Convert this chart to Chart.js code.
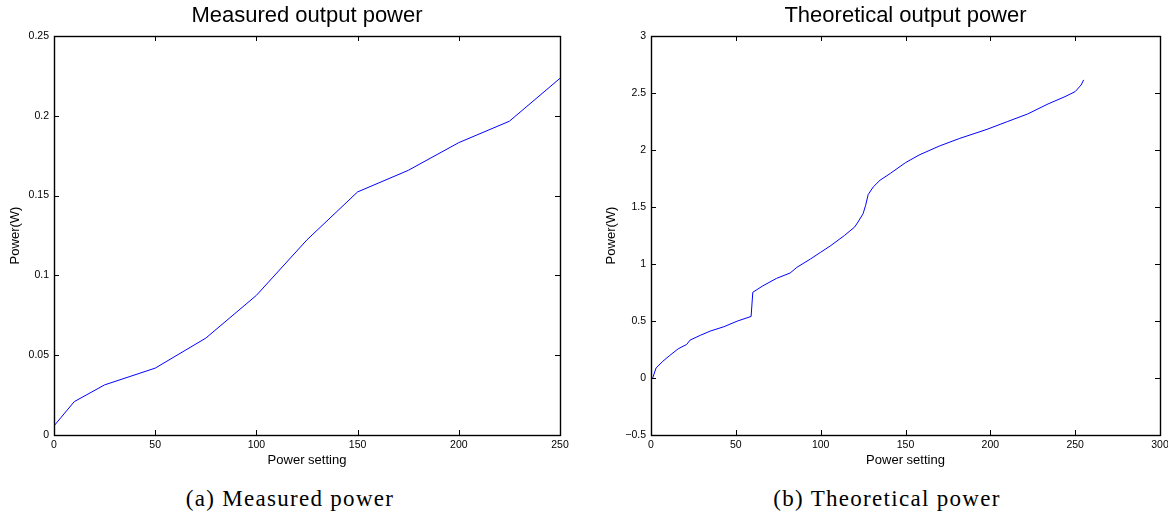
<!DOCTYPE html>
<html>
<head>
<meta charset="utf-8">
<script src="https://cdn.jsdelivr.net/npm/chart.js@4.4.0/dist/chart.umd.min.js"></script>
<style>
  body { margin: 0; background: #fff; width: 1168px; height: 514px; overflow: hidden; position: relative; }
  .box { position: absolute; top: 0; width: 584px; height: 470px; }
  .cap { position: absolute; top: 486px; font-family: "Liberation Serif", serif; font-size: 23px; letter-spacing: 1.3px; line-height: 26px; color: #000; white-space: nowrap; transform: translateX(-50%); }
</style>
</head>
<body>
<div class="box" style="left:0"><canvas id="measured" width="584" height="470"></canvas></div>
<div class="box" style="left:584px"><canvas id="theory" width="584" height="470"></canvas></div>
<div class="cap" style="left:290px">(a) Measured power</div>
<div class="cap" style="left:887px">(b) Theoretical power</div>
<script>
// measured output power, read at the sampled settings
const measuredSetting = [0, 10, 25, 50, 75, 100, 125, 150, 175, 200, 225, 250];
const measuredPower = [0.0057, 0.0209, 0.0314, 0.0419, 0.0607, 0.0875, 0.1223, 0.1523, 0.1658, 0.1832, 0.1966, 0.2235];

// theoretical output power
const theorySetting = [1, 3, 7, 11, 16, 21, 23, 29, 35, 43, 51, 59, 60, 66, 74, 82, 86, 94, 100, 106, 114,
    120, 122, 125, 126.5, 128, 131, 135, 141, 150, 158, 170, 182, 198, 210, 222, 234, 244, 250, 253.5, 255];
const theoryPower = [0, 0.088, 0.147, 0.197, 0.256, 0.294, 0.332, 0.374, 0.412, 0.45, 0.5, 0.54, 0.752, 0.809, 0.874, 0.921, 0.971, 1.044, 1.103, 1.162, 1.25,
    1.324, 1.368, 1.441, 1.515, 1.609, 1.676, 1.735, 1.794, 1.889, 1.956, 2.035, 2.102, 2.181, 2.249, 2.316, 2.404, 2.468, 2.512, 2.57, 2.615];

const xTitle = 'Power setting';
const yTitle = 'Power(W)';

Chart.defaults.font.family = '"Liberation Sans", Arial, sans-serif';
Chart.defaults.color = '#000';

// matlab style box with ticks pointing inwards on all four sides
const boxTicks = {
    id: 'boxTicks',
    afterDraw(chart) {
        const ctx = chart.ctx;
        const a = chart.chartArea;
        const len = 5;
        ctx.save();
        ctx.strokeStyle = '#000';
        ctx.lineWidth = 1;
        ctx.beginPath();
        for (const t of chart.scales.x.ticks) {
            const px = Math.round(chart.scales.x.getPixelForValue(t.value)) + 0.5;
            ctx.moveTo(px, a.bottom); ctx.lineTo(px, a.bottom - len);
            ctx.moveTo(px, a.top); ctx.lineTo(px, a.top + len);
        }
        for (const t of chart.scales.y.ticks) {
            const py = Math.round(chart.scales.y.getPixelForValue(t.value)) + 0.5;
            ctx.moveTo(a.left, py); ctx.lineTo(a.left + len, py);
            ctx.moveTo(a.right, py); ctx.lineTo(a.right - len, py);
        }
        ctx.stroke();
        ctx.lineWidth = 1.4;
        ctx.strokeRect(Math.round(a.left) + 0.5, Math.round(a.top) + 0.5,
            Math.round(a.right - a.left), Math.round(a.bottom - a.top));
        ctx.restore();
    }
};

function fmt(v) {
    return String(+v.toFixed(3)).replace('-', '\u2212');
}

function drawPowerChart(id, title, xs, ys, xMax, yMin, yMax, yStep, yAxisWidth, yTitlePad, rightPad) {
    const points = xs.map((x, i) => ({x: x, y: ys[i]}));
    const config = {
        type: 'line',
        data: {
            datasets: [{
                data: points,
                borderColor: '#0000ff',
                borderWidth: 1,
                pointRadius: 0,
                tension: 0,
                fill: false
            }]
        },
        options: {
            responsive: false,
            animation: false,
            layout: {padding: {top: 0, left: 0, right: rightPad, bottom: 0}},
            plugins: {
                legend: {display: false},
                tooltip: {enabled: false},
                title: {
                    display: true,
                    text: title,
                    fullSize: false,
                    color: '#000',
                    font: {size: 22, weight: 'normal'},
                    padding: {top: 3, bottom: 6.6}
                }
            },
            scales: {
                x: {
                    type: 'linear',
                    min: 0,
                    max: xMax,
                    grid: {display: false, drawTicks: false},
                    border: {display: false},
                    ticks: {stepSize: 50, font: {size: 10.5}, padding: 4, maxRotation: 0, callback: fmt},
                    title: {display: true, text: xTitle, font: {size: 13}, padding: {top: 0, bottom: 1.5}},
                    afterFit: s => { s.height = 35; s.paddingRight = 0; s.paddingLeft = 0; }
                },
                y: {
                    min: yMin,
                    max: yMax,
                    grid: {display: false, drawTicks: false},
                    border: {display: false},
                    ticks: {stepSize: yStep, font: {size: 10.5}, padding: 5, callback: fmt},
                    title: {display: true, text: yTitle, font: {size: 13}, padding: {top: yTitlePad, bottom: 0}},
                    afterFit: s => { s.width = yAxisWidth; s.paddingTop = 0; s.paddingBottom = 0; }
                }
            }
        },
        plugins: [boxTicks]
    };
    return new Chart(id, config);
}

drawPowerChart('measured', 'Measured output power', measuredSetting, measuredPower, 250, 0, 0.25, 0.05, 54, 8, 24);
drawPowerChart('theory', 'Theoretical output power', theorySetting, theoryPower, 300, -0.5, 3, 0.5, 67, 20, 8);
</script>
</body>
</html>
